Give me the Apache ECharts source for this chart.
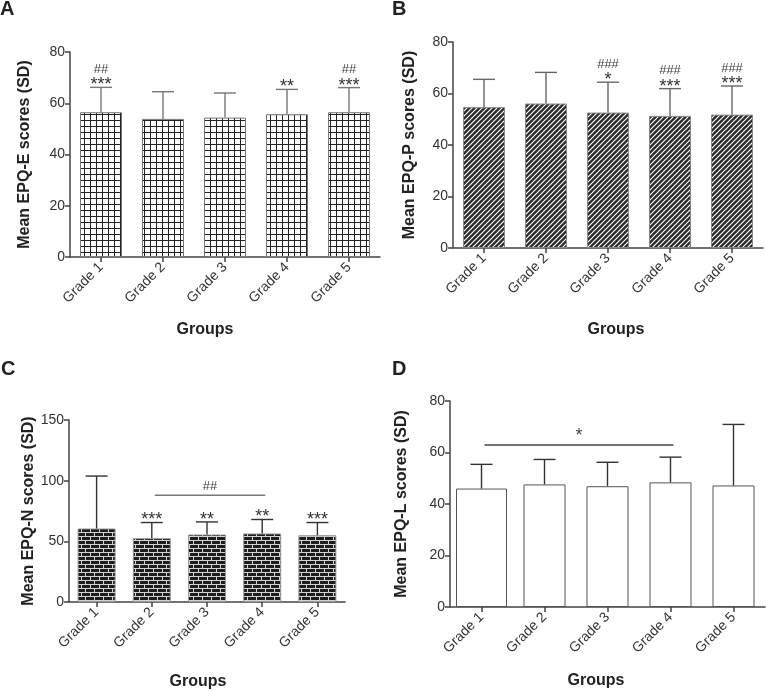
<!DOCTYPE html>
<html>
<head>
<meta charset="utf-8">
<script src="https://cdn.jsdelivr.net/npm/echarts@6/dist/echarts.min.js"></script>
<style>
html, body { margin: 0; padding: 0; background: #fff; }
#main { width: 766px; height: 691px; }
</style>
</head>
<body>
<div id="main"></div>
<script>
// data
var grades = ['Grade 1', 'Grade 2', 'Grade 3', 'Grade 4', 'Grade 5'];

var meanE = [56.5, 53.9, 54.4, 55.7, 56.5];
var sdE = [9.7, 10.6, 9.6, 9.7, 9.6];
var starsE = ['***', '', '', '**', '***'];
var hashE = ['##', '', '', '', '##'];

var meanP = [54.7, 56.1, 52.6, 51.3, 51.8];
var sdP = [10.8, 12.1, 11.8, 10.6, 11.1];
var starsP = ['', '', '*', '***', '***'];
var hashP = ['', '', '###', '###', '###'];

var meanN = [60.6, 52.6, 55.6, 56.5, 55.0];
var sdN = [43.2, 12.9, 10.4, 11.5, 10.5];
var starsN = ['', '***', '**', '**', '***'];
var hashN = ['', '', '', '', ''];
var bracketN = [1, 3, 88, '##'];

var meanL = [46.0, 47.6, 46.9, 48.4, 47.2];
var sdL = [9.4, 9.7, 9.3, 9.8, 23.7];
var starsL = ['', '', '', '', ''];
var hashL = ['', '', '', '', ''];
var bracketL = [0, 3, 62.9, '*'];

var FONT = '"Liberation Sans", Arial, Helvetica, sans-serif';

// fill patterns
function tile(w, h, draw) {
    var c = document.createElement('canvas');
    c.width = w; c.height = h;
    draw(c.getContext('2d'));
    return c;
}
var gridTile = tile(6, 6, function (g) {
    g.fillStyle = '#fff'; g.fillRect(0, 0, 6, 6);
    g.fillStyle = '#222'; g.fillRect(0, 0, 6, 1); g.fillRect(0, 0, 1, 6);
});
var hatchTile = tile(5, 5, function (g) {
    g.fillStyle = '#2b2b2b'; g.fillRect(0, 0, 5, 5);
    g.strokeStyle = '#fff'; g.lineWidth = 1.2;
    g.beginPath();
    g.moveTo(-1, 6); g.lineTo(6, -1);
    g.moveTo(-1, 1); g.lineTo(1, -1);
    g.moveTo(4, 6); g.lineTo(6, 4);
    g.stroke();
});
var brickTile = tile(18, 8, function (g) {
    g.fillStyle = '#1e1e1e'; g.fillRect(0, 0, 18, 8);
    g.fillStyle = '#d4d4d4';
    g.fillRect(0, 0, 18, 1); g.fillRect(0, 4, 18, 1);
    g.fillRect(0, 0, 1, 4); g.fillRect(9, 0, 1, 4);
    g.fillRect(4, 4, 1, 4); g.fillRect(13, 4, 1, 4);
});

function xAx(k, show) {
    return {
        type: 'category', gridIndex: k, data: grades, show: show !== false,
        axisLine: { show: true, lineStyle: { color: '#444', width: 1.5 } },
        axisTick: { show: true, alignWithLabel: true, length: 5, lineStyle: { color: '#444', width: 1.5 } },
        axisLabel: { rotate: 45, margin: 8, fontSize: 14, color: '#333', fontFamily: FONT },
        splitLine: { show: false }
    };
}
function yAx(k, name, max, step, gap) {
    return {
        type: 'value', gridIndex: k, min: 0, max: max, interval: step,
        name: name, nameLocation: 'middle', nameGap: gap,
        nameTextStyle: { fontSize: 16, fontWeight: 'bold', color: '#222', fontFamily: FONT },
        axisLine: { show: true, lineStyle: { color: '#444', width: 1.5 } },
        axisTick: { show: true, length: 5, lineStyle: { color: '#444', width: 1.5 } },
        axisLabel: { fontSize: 14, color: '#333', margin: 5, fontFamily: FONT },
        splitLine: { show: false }
    };
}

function barSeries(k, data, width, fill, border) {
    return {
        type: 'bar', xAxisIndex: k, yAxisIndex: k, data: data, barWidth: width, silent: true,
        itemStyle: { color: fill, borderColor: border, borderWidth: 1 }
    };
}

function errorSeries(k, mean, sd, stars, hashes, color) {
    return {
        type: 'custom', xAxisIndex: k, yAxisIndex: k, z: 5, silent: true,
        data: mean.map(function (m, i) { return [i, m, m + sd[i]]; }),
        renderItem: function (params, api) {
            var i = api.value(0);
            var a = api.coord([i, api.value(1)]);
            var b = api.coord([i, api.value(2)]);
            var st = { stroke: color, lineWidth: 1.4 };
            var kids = [
                { type: 'line', shape: { x1: a[0], y1: a[1], x2: b[0], y2: b[1] }, style: st },
                { type: 'line', shape: { x1: b[0] - 11, y1: b[1], x2: b[0] + 11, y2: b[1] }, style: st }
            ];
            if (stars[i]) {
                kids.push({ type: 'text', x: b[0], y: b[1] - 2, style: {
                    text: stars[i], fontSize: 18, fontFamily: FONT, fill: '#333', align: 'center', verticalAlign: 'middle' } });
            }
            if (hashes[i]) {
                kids.push({ type: 'text', x: b[0], y: b[1] - 18, style: {
                    text: hashes[i], fontSize: 13, fontFamily: FONT, fill: '#444', align: 'center', verticalAlign: 'middle' } });
            }
            return { type: 'group', children: kids };
        }
    };
}

function bracketSeries(k, br, color, fontSize) {
    return {
        type: 'custom', xAxisIndex: k, yAxisIndex: k, z: 5, silent: true,
        encode: { x: [0, 1], y: 2 },
        data: [[br[0], br[1], br[2]]],
        renderItem: function (params, api) {
            var a = api.coord([api.value(0), api.value(2)]);
            var b = api.coord([api.value(1), api.value(2)]);
            return { type: 'group', children: [
                { type: 'line', shape: { x1: a[0] + 3, y1: a[1], x2: b[0] + 3, y2: b[1] }, style: { stroke: color, lineWidth: 1.4 } },
                { type: 'text', x: (a[0] + b[0]) / 2 + 3, y: a[1] - 9, style: {
                    text: br[3], fontSize: fontSize, fontFamily: FONT, fill: '#444', align: 'center', verticalAlign: 'middle' } }
            ] };
        }
    };
}

function label(x, y, text, size, align) {
    return { type: 'text', x: x, y: y, silent: true, style: {
        text: text, fontSize: size, fontWeight: 'bold', fontFamily: FONT, fill: '#222',
        align: align || 'center', verticalAlign: 'middle' } };
}

var myChart = echarts.init(document.getElementById('main'));

var option = {
    animation: false,
    backgroundColor: '#fff',
    grid: [
        { left: 70, top: 52, width: 310, height: 205, outerBoundsMode: 'none' },
        { left: 453, top: 42, width: 310, height: 206, outerBoundsMode: 'none' },
        { left: 69, top: 420, width: 276, height: 182, outerBoundsMode: 'none' },
        { left: 450, top: 401, width: 315, height: 206, outerBoundsMode: 'none' }
    ],
    xAxis: [xAx(0), xAx(1), xAx(2), xAx(3), xAx(3, false)],
    yAxis: [
        yAx(0, 'Mean EPQ-E scores (SD)', 80, 20, 37),
        yAx(1, 'Mean EPQ-P scores (SD)', 80, 20, 35),
        yAx(2, 'Mean EPQ-N scores (SD)', 150, 50, 30),
        yAx(3, 'Mean EPQ-L scores (SD)', 80, 20, 40),
        { type: 'value', gridIndex: 3, min: 0, max: 80, show: false }
    ],
    graphic: [
        label(0, 9, 'A', 20, 'left'),
        label(392, 9, 'B', 20, 'left'),
        label(1, 369, 'C', 20, 'left'),
        label(392, 369, 'D', 20, 'left'),
        label(205, 330, 'Groups', 16),
        label(616, 330, 'Groups', 16),
        label(198, 682, 'Groups', 16),
        label(596, 681, 'Groups', 16)
    ],
    series: [
        barSeries(0, meanE, 42, { image: gridTile, repeat: 'repeat' }, '#777'),
        errorSeries(0, meanE, sdE, starsE, hashE, '#777'),

        barSeries(1, meanP, 42, { image: hatchTile, repeat: 'repeat' }, '#888'),
        errorSeries(1, meanP, sdP, starsP, hashP, '#666'),

        barSeries(2, meanN, 38, { image: brickTile, repeat: 'repeat' }, '#999'),
        errorSeries(2, meanN, sdN, starsN, hashN, '#333'),
        bracketSeries(2, bracketN, '#777', 13),

        barSeries(3, meanL.map(function (v, i) { return i === 0 ? '-' : v; }), 42, '#fff', '#555'),
        {
            type: 'bar', xAxisIndex: 4, yAxisIndex: 4, barWidth: 51, silent: true,
            data: meanL.map(function (v, i) { return i === 0 ? v : '-'; }),
            itemStyle: { color: '#fff', borderColor: '#555', borderWidth: 1 }
        },
        errorSeries(3, meanL, sdL, starsL, hashL, '#333'),
        bracketSeries(3, bracketL, '#444', 18)
    ]
};

myChart.setOption(option);
</script>
</body>
</html>
